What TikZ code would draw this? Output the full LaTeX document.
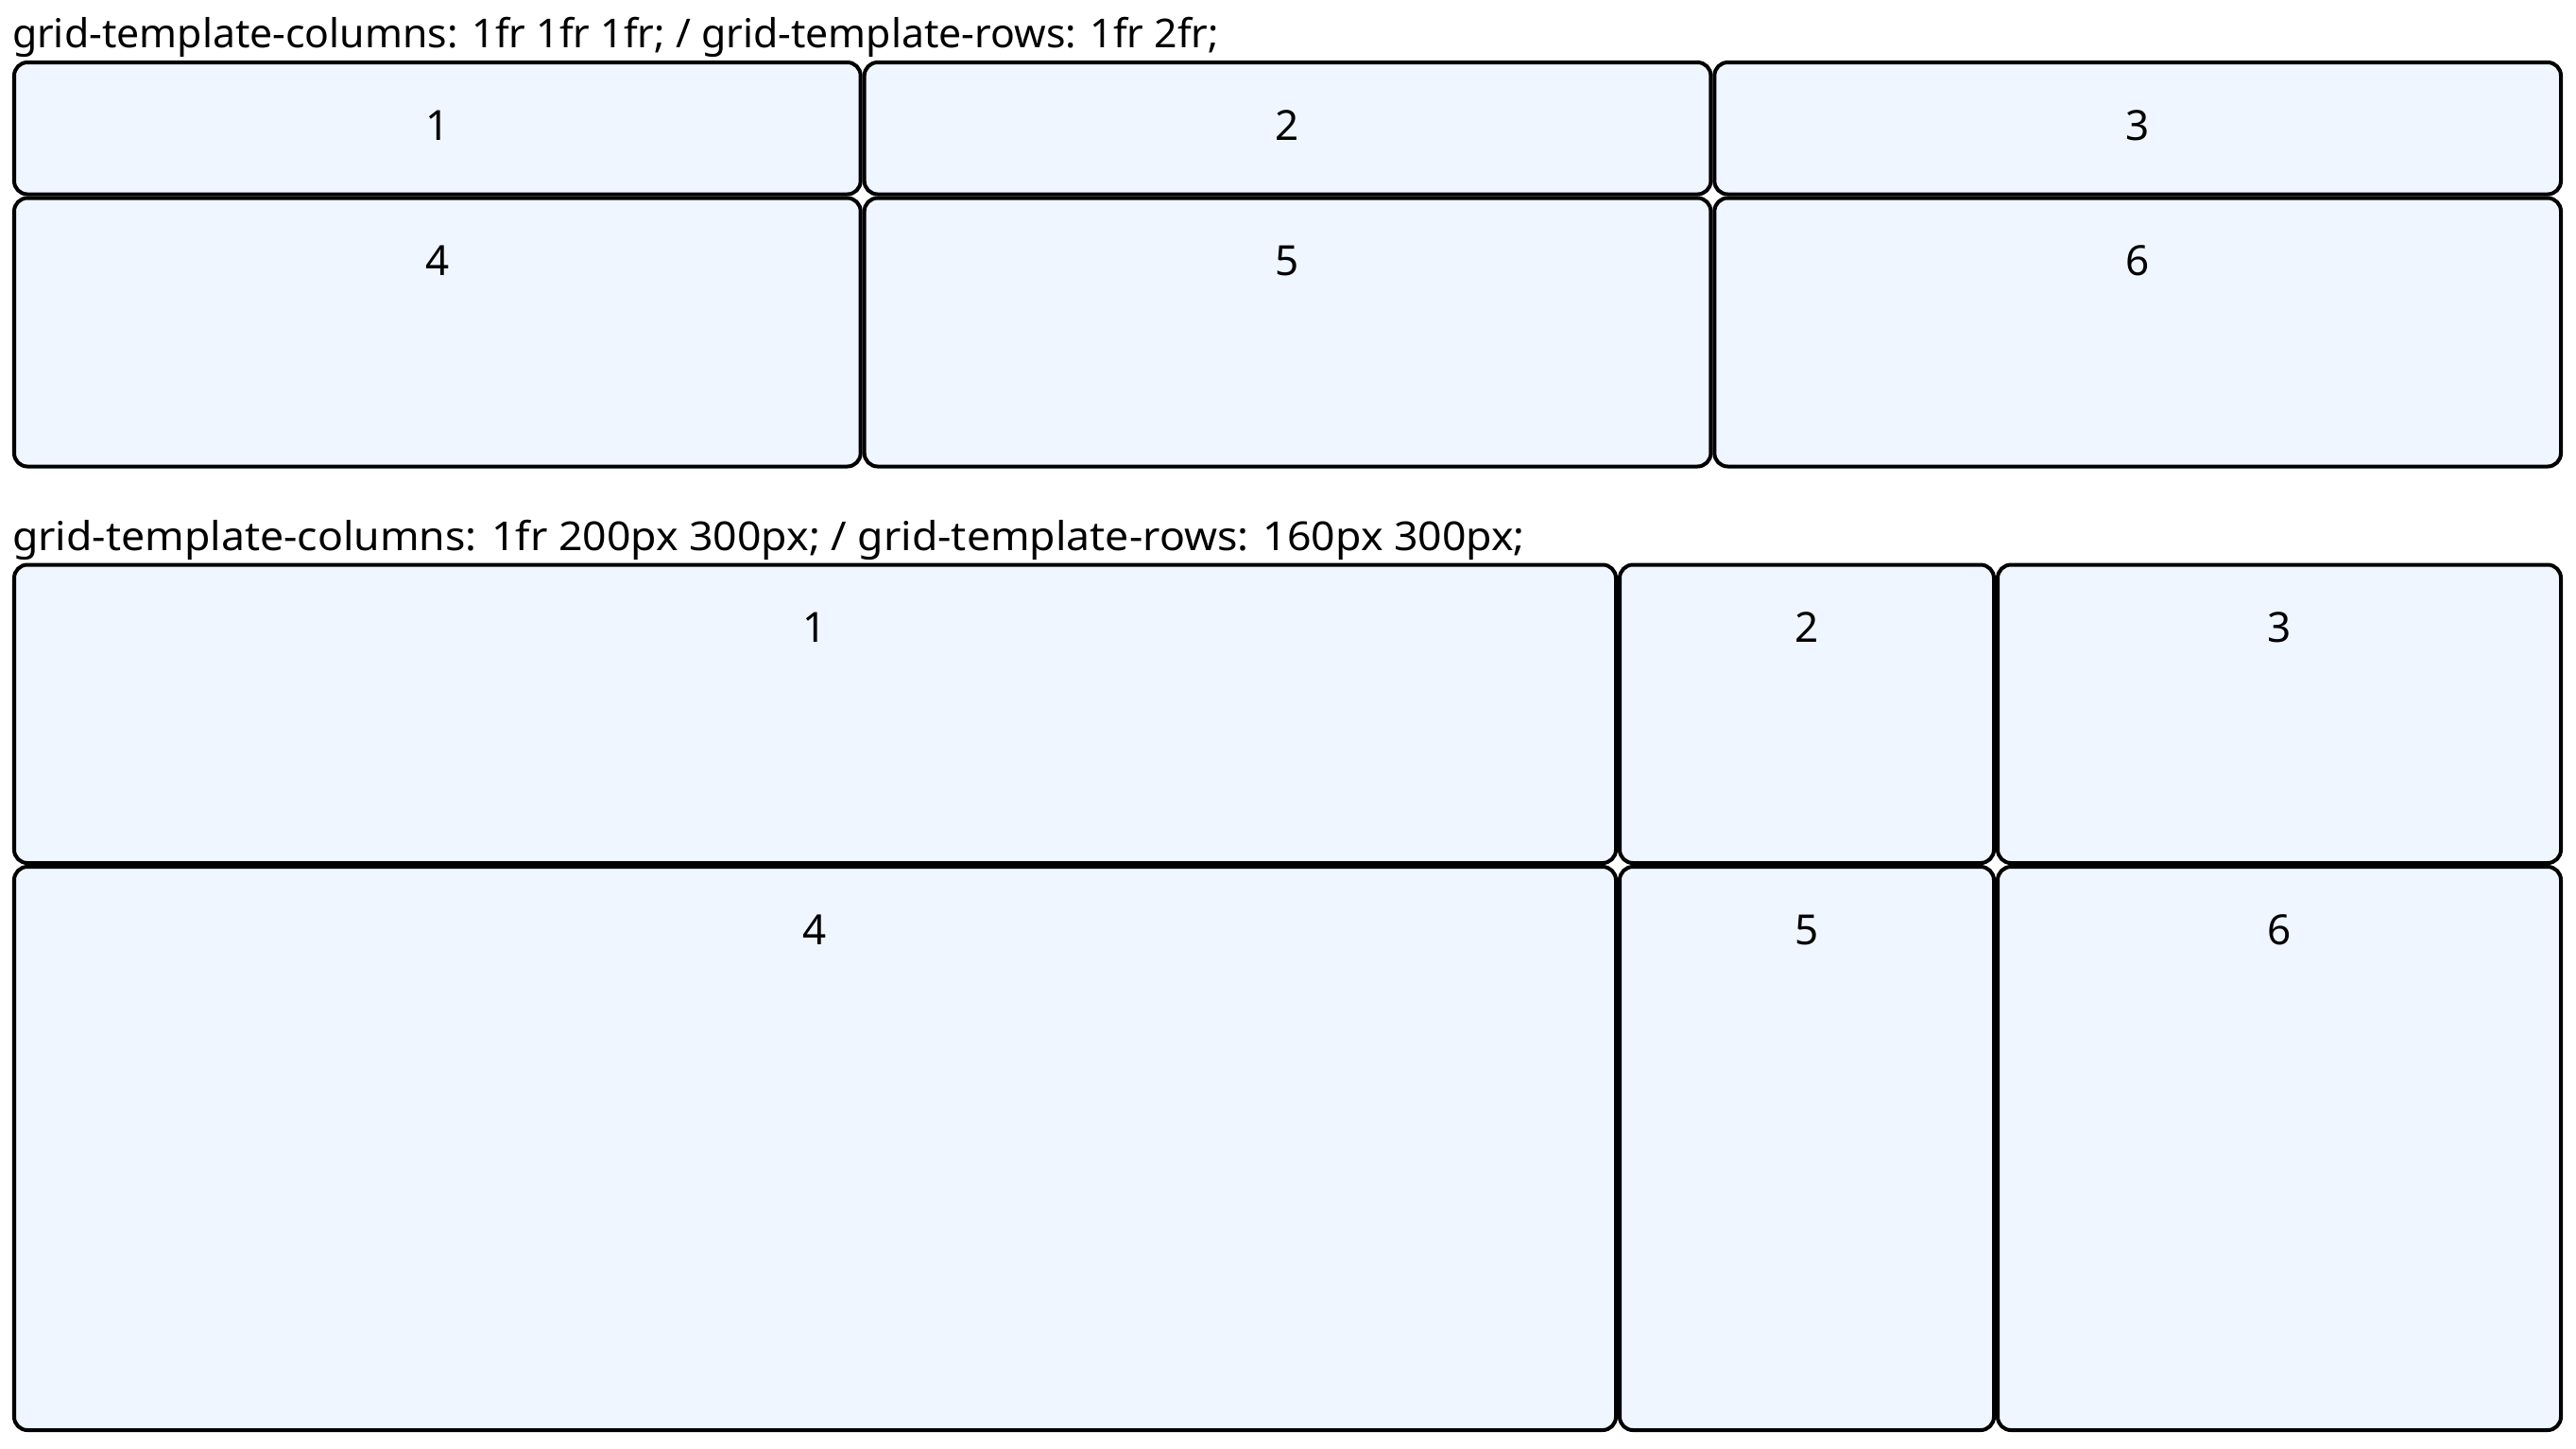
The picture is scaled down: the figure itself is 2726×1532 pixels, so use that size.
\documentclass[tikz,border=0pt]{standalone}
\usepackage{fontspec}
\setmainfont{Noto Sans}
\usepackage{xcolor}
\usetikzlibrary{positioning}
\definecolor{cellfill}{HTML}{EFF6FF}

\begin{document}
\begin{tikzpicture}[x=0.01cm, y=-0.01cm,
    every node/.style={inner sep=0pt, outer sep=0pt},
    title/.style={anchor=base west, font=\fontsize{12}{14}\selectfont},
    cell/.style={draw=black, line width=0.04cm, fill=cellfill, rounded corners=0.14cm, anchor=north west},
    num/.style={anchor=base, font=\fontsize{12.5}{14}\selectfont}]
    \fill[white] (0,0) rectangle (2726,1532);
    \useasboundingbox (0,0) rectangle (2726,1532);

    % Grid 1: three equal columns, rows 1fr 2fr
    \node[title] (title1) at (13,50) {\scalebox{1.014}[1]{grid-template-columns: 1fr 1fr 1fr; / grid-template-rows: 1fr 2fr;}};
    \foreach \n/\x/\y/\w/\h in {1/13/64/899.7/143.5, 2/912.7/64/899.7/143.5, 3/1812.3/64/899.7/143.5,
                               4/13/207.5/899.7/288, 5/912.7/207.5/899.7/288, 6/1812.3/207.5/899.7/288} {
        \node[cell, minimum width=\w*0.01cm-0.04cm, minimum height=\h*0.01cm-0.04cm] (a\n) at (\x+2,\y+2) {};
        \node[num] (a\n-label) at ([yshift=-0.82cm]a\n.north) {\n};
    }

    % Grid 2: columns 1fr 200px 300px, rows 160px 300px
    \node[title] (title2) at (13,582) {\scalebox{1.057}[1]{grid-template-columns: 1fr 200px 300px; / grid-template-rows: 160px 300px;}};
    \foreach \n/\x/\y/\w/\h in {1/13/595.5/1699/319.5, 2/1712/595.5/400/319.5, 3/2112/595.5/600/319.5,
                               4/13/915/1699/600, 5/1712/915/400/600, 6/2112/915/600/600} {
        \node[cell, minimum width=\w*0.01cm-0.04cm, minimum height=\h*0.01cm-0.04cm] (b\n) at (\x+2,\y+2) {};
        \node[num] (b\n-label) at ([yshift=-0.82cm]b\n.north) {\n};
    }
\end{tikzpicture}
\end{document}
